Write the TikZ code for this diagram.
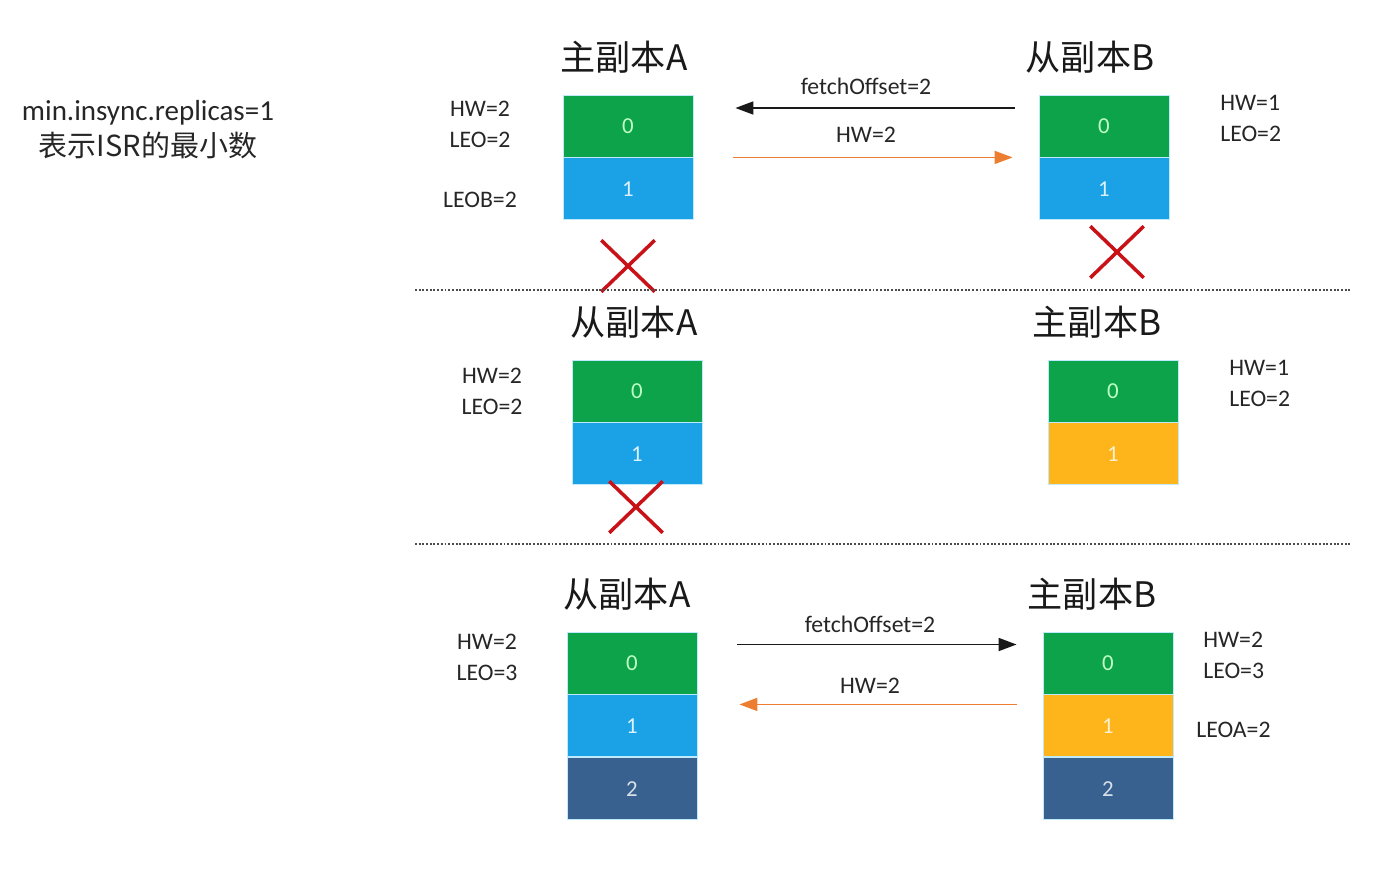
\documentclass[tikz,border=0pt]{standalone}
\usepackage{fontspec}
\setmainfont{Carlito}
\newfontfamily\cjk{Noto Sans CJK SC}
\usepackage{xcolor}
\usepackage{tikz}
\usetikzlibrary{positioning, arrows.meta, shapes.misc}

\definecolor{cellgreen}{RGB}{12,163,74}
\definecolor{cellblue}{RGB}{27,161,230}
\definecolor{cellyellow}{RGB}{253,181,27}
\definecolor{celldark}{RGB}{56,97,143}
\definecolor{arrorange}{RGB}{237,125,49}
\definecolor{xred}{RGB}{200,18,24}
\definecolor{txt}{RGB}{38,38,38}

\begin{document}
\begin{tikzpicture}[x=0.02cm, y=-0.02cm,
      cell/.style={draw=cyan!25, line width=0.5pt, minimum width=2.6cm, minimum height=1.24cm, inner sep=0pt, font=\fontsize{13pt}{15pt}\selectfont},
      czero/.style={cell, fill=cellgreen, text=green!25!white},
      cone/.style={cell, fill=cellblue, text=white!85!cellblue},
      cnew/.style={cell, fill=cellyellow, text=white!80!cellyellow},
      ctwo/.style={cell, fill=celldark, text=white!80!celldark},
      title/.style={font=\cjk\fontsize{20pt}{24pt}\selectfont, text=black!90},
      lbl/.style={font=\fontsize{13.5pt}{17.6pt}\selectfont, text=txt, align=center, inner sep=0pt},
      rlbl/.style={lbl, align=left, anchor=west},
      xmark/.style={cross out, draw=xred, line width=2pt, minimum width=1cm, minimum height=0.96cm, inner sep=0pt},
      fetcharr/.style={-{Triangle[length=0.36cm, width=0.26cm]}, line width=1pt, black!90},
      hwarr/.style={-{Triangle[length=0.36cm, width=0.26cm]}, line width=1pt, arrorange},
      sep/.style={densely dotted, line width=1.1pt, black!70}
    ]
    \useasboundingbox (0,0) rectangle (1380,876);
    \node[lbl, font=\fontsize{16.5pt}{20.5pt}\selectfont] (note) at (148,130) {min.insync.replicas=1\\{\cjk 表示ISR的最小数}};
    %% step 1: A leader, B follower
    \node[title] (tAt) at (624,57) {主副本A};
    \node[title] (tBt) at (1090,57) {从副本B};
    \node[czero] (tA0) at (628,126) {0};
    \node[cone, below=0pt of tA0] (tA1) {1};
    \node[czero] (tB0) at (1104,126) {0};
    \node[cone, below=0pt of tB0] (tB1) {1};
    \node[lbl] (tAhw) at (480,124) {HW=2\\LEO=2};
    \node[lbl] (tAleo) at (480,200) {LEOB=2};
    \node[rlbl] (tBhw) at (1220,118) {HW=1\\LEO=2};
    \draw[fetcharr, shorten <=0.48cm, shorten >=0.84cm] ([yshift=0.36cm]tB0.west) -- ([yshift=0.36cm]tA0.east)
      node[midway, above=7pt, lbl] {fetchOffset=2};
    \draw[hwarr, shorten <=0.8cm, shorten >=0.52cm] (tA0.south east) -- (tB0.south west)
      node[midway, above=8pt, lbl] {HW=2};
    \node[xmark] (tAx) at (628,266) {};
    \node[xmark] (tBx) at (1117,252) {};
    \draw[sep] (415,290) -- (1352,290);
    %% step 2: B becomes leader
    \node[title] (mAt) at (634,322) {从副本A};
    \node[title] (mBt) at (1097,322) {主副本B};
    \node[czero] (mA0) at (637,391) {0};
    \node[cone, below=0pt of mA0] (mA1) {1};
    \node[czero] (mB0) at (1113,391) {0};
    \node[cnew, below=0pt of mB0] (mB1) {1};
    \node[lbl] (mAhw) at (492,391) {HW=2\\LEO=2};
    \node[rlbl] (mBhw) at (1229,383) {HW=1\\LEO=2};
    \node[xmark] (mAx) at (636,507) {};
    \draw[sep] (415,544) -- (1352,544);
    %% step 3: A follows B
    \node[title] (bAt) at (627,594) {从副本A};
    \node[title] (bBt) at (1092,594) {主副本B};
    \node[czero] (bA0) at (632,663) {0};
    \node[cone, below=0pt of bA0] (bA1) {1};
    \node[ctwo, below=0pt of bA1] (bA2) {2};
    \node[czero] (bB0) at (1108,663) {0};
    \node[cnew, below=0pt of bB0] (bB1) {1};
    \node[ctwo, below=0pt of bB1] (bB2) {2};
    \node[lbl] (bAhw) at (487,657) {HW=2\\LEO=3};
    \node[rlbl] (bBhw) at (1203,655) {HW=2\\LEO=3};
    \node[rlbl] (bBleo) at (1196,730) {LEOA=2};
    \draw[fetcharr, shorten <=0.8cm, shorten >=0.52cm] ([yshift=0.37cm]bA0.east) -- ([yshift=0.37cm]bB0.west)
      node[midway, above=6pt, lbl] {fetchOffset=2};
    \draw[hwarr, shorten <=0.52cm, shorten >=0.84cm] ([yshift=-0.2cm]bB0.south west) -- ([yshift=-0.2cm]bA0.south east)
      node[midway, above=6pt, lbl] {HW=2};
  \end{tikzpicture}
\end{document}
